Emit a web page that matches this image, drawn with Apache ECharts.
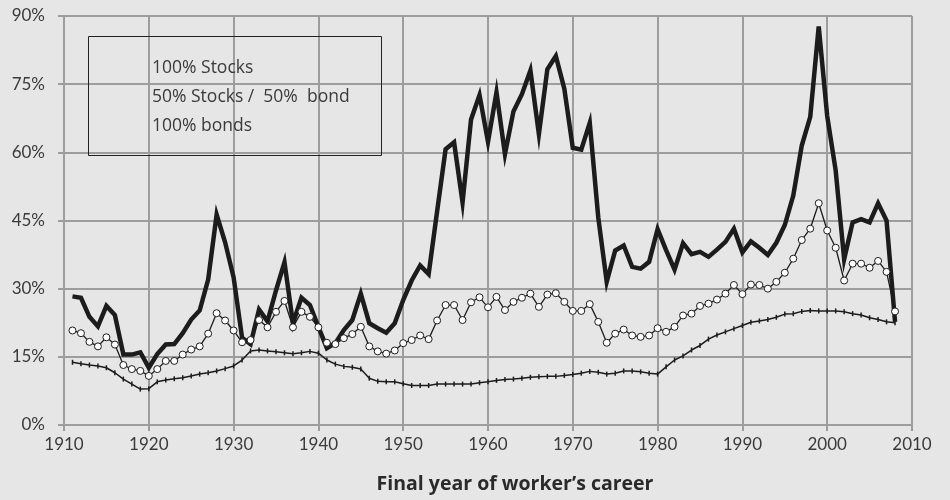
<!DOCTYPE html>
<html>
<head>
<meta charset="utf-8">
<script src="https://cdn.jsdelivr.net/npm/echarts@6/dist/echarts.min.js"></script>
<style>
html,body{margin:0;padding:0;background:#e6e6e6;}
#chart{width:950px;height:500px;}
</style>
</head>
<body>
<div id="chart"></div>
<script>
var years = [];
for (var y = 1911; y <= 2008; y++) years.push(y);

var stocks = [
28.3,28.0,23.8,21.7,26.2,24.2,15.5,15.5,16.0,12.6,
15.6,17.7,17.8,20.2,23.2,25.2,32.0,46.3,40.2,32.5,
19.2,17.8,25.4,22.8,29.6,35.8,22.4,28.0,26.4,21.6,
16.9,18.0,20.9,23.1,28.9,22.4,21.3,20.3,22.4,27.5,
31.8,35.1,33.2,47.0,60.7,62.2,49.0,67.2,72.6,62.3,
73.2,59.6,69.0,72.8,78.0,64.0,78.3,81.2,74.0,61.0,
60.6,66.5,45.7,31.5,38.4,39.5,34.8,34.4,35.9,43.1,
38.5,34.2,40.0,37.6,38.1,37.0,38.6,40.3,43.2,38.0,
40.4,39.0,37.4,40.1,44.0,50.5,61.5,67.8,87.7,68.0,
56.0,36.5,44.6,45.3,44.6,48.8,45.0,22.7
];

var mixed = [
20.8,20.2,18.3,17.3,19.3,17.7,13.2,12.3,11.9,10.8,
12.3,14.1,14.1,15.5,16.6,17.3,20.1,24.6,23.0,20.8,
18.2,18.7,23.1,21.5,24.9,27.3,21.5,24.9,23.8,21.5,
18.1,17.8,19.1,20.0,21.6,17.3,16.2,15.7,16.4,18.0,
18.7,19.7,18.9,23.0,26.4,26.4,23.1,27.0,28.1,25.9,
28.2,25.3,27.1,28.0,28.9,26.0,28.7,29.0,27.1,25.1,
25.1,26.6,22.7,18.1,20.1,21.0,19.7,19.4,19.7,21.3,
20.5,21.6,24.1,24.5,26.2,26.7,27.6,28.9,30.8,28.8,
30.9,30.8,30.0,31.5,33.5,36.6,40.7,43.2,48.8,42.8,
39.0,31.8,35.5,35.5,34.6,36.1,33.7,25.0
];

var bonds = [
13.8,13.5,13.2,13.0,12.6,11.5,10.1,9.0,7.9,8.0,
9.5,9.9,10.2,10.4,10.8,11.2,11.5,11.9,12.4,13.0,
14.3,16.3,16.5,16.3,16.1,15.9,15.7,15.9,16.2,15.8,
14.3,13.4,12.9,12.7,12.3,10.3,9.6,9.5,9.5,9.1,
8.7,8.7,8.7,9.0,9.0,9.0,9.0,9.0,9.3,9.5,
9.8,10.0,10.1,10.3,10.5,10.6,10.7,10.7,10.9,11.1,
11.4,11.8,11.6,11.2,11.4,11.9,11.9,11.7,11.4,11.2,
12.8,14.3,15.2,16.5,17.5,18.9,19.8,20.5,21.2,21.9,
22.6,22.9,23.2,23.7,24.4,24.5,25.0,25.2,25.1,25.1,
25.1,24.9,24.5,24.2,23.6,23.2,22.7,22.5
];

var seriesNames = ['100% Stocks', '50% Stocks /  50%  bond', '100% bonds'];
var yTicks = [0, 15, 30, 45, 60, 75, 90];
var xTicks = [1910, 1920, 1930, 1940, 1950, 1960, 1970, 1980, 1990, 2000, 2010];
var xTitle = 'Final year of worker\u2019s career';

function pairs(vals) {
  return years.map(function (yr, i) { return [yr, vals[i]]; });
}

var FONT = 'Lato, "Open Sans", sans-serif';
var FONT2 = '"Open Sans", Lato, sans-serif';
var GRID = '#9d9d9d';

var chart = echarts.init(document.getElementById('chart'), null, {renderer: 'canvas'});
chart.setOption({
  animation: false,
  backgroundColor: '#e6e6e6',
  textStyle: {fontFamily: FONT},
  grid: {left: 64, right: 38, top: 16, bottom: 75, containLabel: false},
  graphic: [{
    type: 'rect',
    left: 88, top: 36,
    shape: {width: 293, height: 119},
    style: {fill: 'transparent', stroke: '#222', lineWidth: 1},
    z: 10
  }],
  legend: {
    orient: 'vertical',
    left: 129, top: 53,
    itemWidth: 12, itemHeight: 12, itemGap: 8,
    icon: 'rect',
    itemStyle: {opacity: 0},
    lineStyle: {opacity: 0},
    data: seriesNames,
    textStyle: {fontFamily: FONT2, fontSize: 17.5, lineHeight: 21, color: '#3a3a3a'}
  },
  xAxis: {
    type: 'value',
    min: xTicks[0], max: xTicks[xTicks.length - 1], interval: 10,
    axisLine: {show: true, lineStyle: {color: GRID, width: 2}},
    axisTick: {show: true, length: 6, lineStyle: {color: GRID, width: 2}},
    splitLine: {show: true, lineStyle: {color: GRID, width: 2}},
    axisLabel: {fontSize: 17, color: '#3a3a3a', margin: 11, fontFamily: FONT,
      formatter: function (v) { return String(v); }},
    name: xTitle,
    nameLocation: 'middle',
    nameGap: 49,
    nameTextStyle: {fontSize: 19.5, fontWeight: 'bold', color: '#2a2a2a', fontFamily: FONT2, padding: [0, 0, 0, 54]}
  },
  yAxis: {
    type: 'value',
    min: yTicks[0], max: yTicks[yTicks.length - 1], interval: 15,
    axisLine: {show: true, lineStyle: {color: GRID, width: 2}},
    axisTick: {show: true, length: 6, lineStyle: {color: GRID, width: 2}},
    splitLine: {show: true, lineStyle: {color: GRID, width: 2}},
    axisLabel: {fontSize: 17, color: '#3a3a3a', margin: 19, fontFamily: FONT, formatter: '{value}%'}
  },
  series: [
    {
      name: seriesNames[0], type: 'line', data: pairs(stocks),
      showSymbol: false, symbol: 'none',
      lineStyle: {color: '#1c1c1c', width: 4.5, join: 'miter'},
      itemStyle: {color: '#1c1c1c'},
      z: 3
    },
    {
      name: seriesNames[1], type: 'line', data: pairs(mixed),
      symbol: 'circle', symbolSize: 7, showSymbol: true,
      lineStyle: {color: '#1c1c1c', width: 1.3},
      itemStyle: {color: '#ffffff', borderColor: '#1c1c1c', borderWidth: 1},
      z: 4
    },
    {
      name: seriesNames[2], type: 'line', data: pairs(bonds),
      symbol: 'rect', symbolSize: [1.5, 5], showSymbol: true,
      lineStyle: {color: '#1c1c1c', width: 1.5},
      itemStyle: {color: '#1c1c1c'},
      z: 2
    }
  ]
});
</script>
</body>
</html>
